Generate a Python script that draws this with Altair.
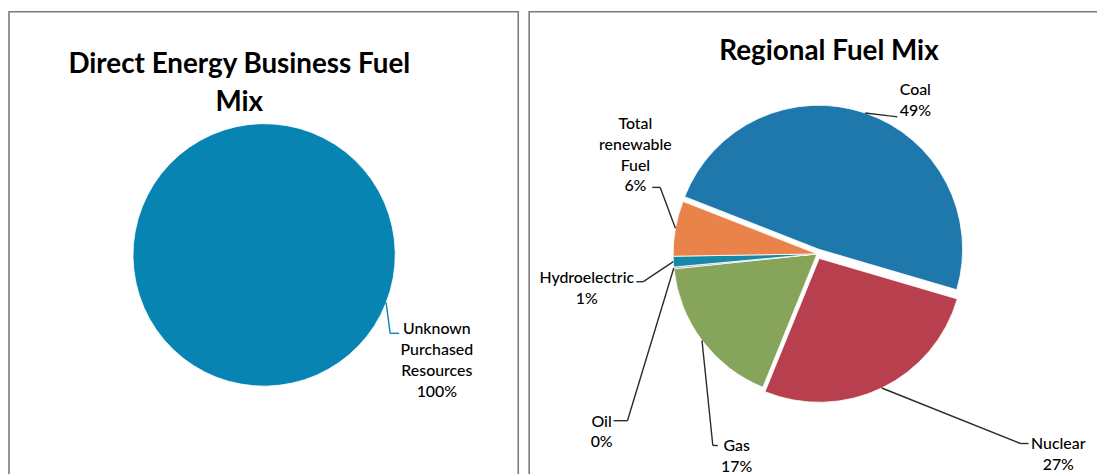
import math
import altair as alt
import pandas as pd

# ---------------- data ----------------
LEFT_TITLE = ["Direct Energy Business Fuel", "Mix"]
LEFT_FUELS = ["Unknown Purchased Resources"]
LEFT_VALUES = [100.0]

RIGHT_TITLE = ["Regional Fuel Mix"]
RIGHT_FUELS = ["Coal", "Nuclear", "Gas", "Oil", "Hydroelectric", "Total renewable Fuel"]
RIGHT_VALUES = [48.6, 26.6, 17.2, 0.2, 1.2, 6.2]

# ---------------- style / layout ----------------
LEFT_COLORS = ["#0884b3"]
RIGHT_COLORS = ["#1e78ab", "#b8404e", "#86a55b", "#a597c8", "#1788a6", "#ea834a"]
EXPLODED = ["Coal", "Nuclear"]
PULL = 5
START = math.radians(291.4)          # angle of first slice (clockwise from 12 o'clock)
FONT = "Lato"

PANELS = {"left": dict(cx=258, cy=247, r=132), "right": dict(cx=815, cy=246, r=145)}

# label anchor (tx, ty), leader elbow (ex, ey) and leader end (lx, ly), in pixels
LABEL_LAYOUT = {
    "Unknown Purchased Resources": (432, 327, 385, 326, 394, 326),
    "Coal": (914, 86, 888, 107, 896, 108),
    "Nuclear": (1058, 443, 1020, 437, 1028, 437),
    "Gas": (734, 445, 710, 439, 715, 439),
    "Oil": (598, 420, 624, 414, 610, 414),
    "Hydroelectric": (583, 275, 640, 274, 633, 274),
    "Total renewable Fuel": (632, 120, 657, 179, 649, 179),
}
LEADER_COLORS = {"left": "#0884b3", "right": "#2a2a2a"}
TITLE_LAYOUT = {"left": (233, 64), "right": (827, 51)}

W, H = 1097, 466

# ---------------- tables built from the arrays ----------------
rows = []
for panel, fuels, values in (("left", LEFT_FUELS, LEFT_VALUES), ("right", RIGHT_FUELS, RIGHT_VALUES)):
    for i, (f, v) in enumerate(zip(fuels, values)):
        tx, ty, ex, ey, lx, ly = LABEL_LAYOUT[f]
        rows.append(dict(
            panel=panel, order=i, fuel=f, value=v,
            lines=f.split(" ") + [f"{v:.0f}%"],
            exploded=1 if f in EXPLODED else 0,
            cx=PANELS[panel]["cx"], cy=PANELS[panel]["cy"], r=PANELS[panel]["r"],
            tx=tx, ty=ty, ex=ex, ey=ey, lx=lx, ly=ly,
            lcolor=LEADER_COLORS[panel],
        ))
df = pd.DataFrame(rows)

titles = pd.DataFrame([
    dict(panel="left", lines=LEFT_TITLE, tx=TITLE_LAYOUT["left"][0], ty=TITLE_LAYOUT["left"][1]),
    dict(panel="right", lines=RIGHT_TITLE, tx=TITLE_LAYOUT["right"][0], ty=TITLE_LAYOUT["right"][1]),
])

all_fuels = LEFT_FUELS + RIGHT_FUELS
all_colors = LEFT_COLORS + RIGHT_COLORS

S = START
mid_expr = f"{S} + 2*PI*((datum.v0 + datum.v1)/2)/100"

pie = (
    alt.Chart(df)
    .transform_stack(stack="value", groupby=["panel"], as_=["v0", "v1"],
                     sort=[alt.SortField("order", order="ascending")])
    .transform_calculate(mid=mid_expr)
    .transform_calculate(
        ax=f"datum.cx + datum.exploded*{PULL}*sin(datum.mid)",
        ay=f"datum.cy - datum.exploded*{PULL}*cos(datum.mid)",
    )
    .transform_calculate(
        sx="datum.ax + datum.r*sin(datum.mid)",
        sy="datum.ay - datum.r*cos(datum.mid)",
    )
)

arcs = pie.mark_arc(stroke="white", strokeWidth=0.8).encode(
    theta=alt.Theta("v0:Q", scale=alt.Scale(domain=[0, 100], range=[S, S + 2 * math.pi])),
    theta2="v1:Q",
    radius=alt.Radius("r:Q", scale=None),
    x=alt.X("ax:Q", scale=None, axis=None),
    y=alt.Y("ay:Q", scale=None, axis=None),
    color=alt.Color("fuel:N", scale=alt.Scale(domain=all_fuels, range=all_colors), legend=None),
)

leader1 = pie.mark_rule(strokeWidth=1.4).encode(
    x=alt.X("sx:Q", scale=None, axis=None), y=alt.Y("sy:Q", scale=None, axis=None),
    x2="ex:Q", y2="ey:Q",
    color=alt.Color("lcolor:N", scale=None),
)
leader2 = pie.mark_rule(strokeWidth=1.4).encode(
    x=alt.X("ex:Q", scale=None, axis=None), y=alt.Y("ey:Q", scale=None, axis=None),
    x2="lx:Q", y2="ly:Q",
    color=alt.Color("lcolor:N", scale=None),
)

labels = alt.Chart(df).mark_text(
    font=FONT, fontSize=16, lineHeight=21, align="center", baseline="alphabetic",
    color="#000000", fontWeight=500
).encode(
    x=alt.X("tx:Q", scale=None, axis=None),
    y=alt.Y("ty:Q", scale=None, axis=None),
    text=alt.Text("lines:N"),
)

title_text = alt.Chart(titles).mark_text(
    font=FONT, fontSize=28, fontWeight="bold", lineHeight=38, align="center",
    baseline="alphabetic", color="#000000"
).encode(
    x=alt.X("tx:Q", scale=None, axis=None),
    y=alt.Y("ty:Q", scale=None, axis=None),
    text=alt.Text("lines:N"),
)

frame_data = alt.Data(values=[{"k": 0}])
frame_left = alt.Chart(frame_data).mark_rect(fill=None, stroke="#7a7a7a", strokeWidth=1.6).encode(
    x=alt.value(1), x2=alt.value(514), y=alt.value(2), y2=alt.value(700)
)
frame_right = alt.Chart(frame_data).mark_rect(fill=None, stroke="#7a7a7a", strokeWidth=1.6).encode(
    x=alt.value(525), x2=alt.value(1300), y=alt.value(2), y2=alt.value(700)
)

chart = (
    alt.layer(frame_left, frame_right, arcs, leader1, leader2, labels, title_text)
    .properties(width=W, height=H, padding=0, autosize=alt.AutoSizeParams(type="none"),
                background="white")
    .configure_view(stroke=None)
)

chart.save("out.html", embed_options={"renderer": "svg", "actions": False})
